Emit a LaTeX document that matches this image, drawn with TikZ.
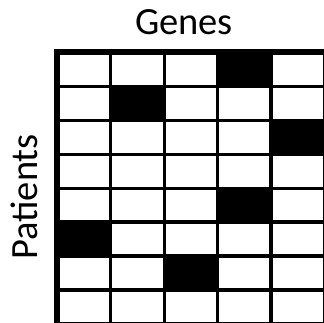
\documentclass[tikz,border=0pt]{standalone}
\usepackage{fontspec}
\setmainfont{Carlito}
\begin{document}
\begin{tikzpicture}[
    x=1pt, y=-1pt,
    cell/.style={rectangle, draw, line width=3.2pt, minimum width=53.44pt,
      minimum height=33.96pt, inner sep=0pt, outer sep=0pt, anchor=north west},
    title/.style={font=\fontsize{38.5}{42}\selectfont, inner sep=0pt}
  ]
  \useasboundingbox (0,0) rectangle (324,323);
  % grid of patients (rows) x genes (columns)
  \foreach \r in {1,...,8}
    \foreach \c in {1,...,5}
      \node[cell] (cell-\r-\c) at ({57.3+(\c-1)*53.44},{52.3+(\r-1)*33.96}) {};
  % mutated entries
  \foreach \r/\c in {1/4, 2/2, 3/5, 5/4, 6/1, 7/3}
    \fill (cell-\r-\c.north west) rectangle (cell-\r-\c.south east);
  \draw[line width=6pt, line cap=rect] (cell-8-1.south west) |- (cell-1-5.north east);
  \node[title] (genes) at (184,22) {Genes};
  \node[title, rotate=90] (patients) at (24,197) {Patients};
\end{tikzpicture}
\end{document}
